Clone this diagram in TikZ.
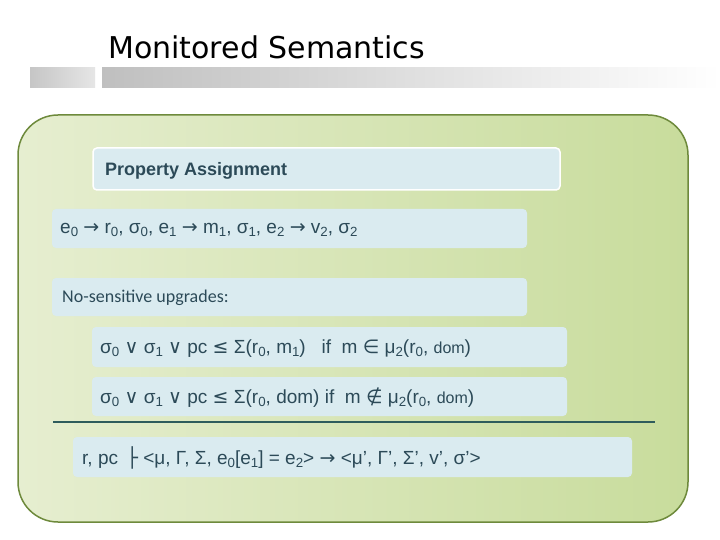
\documentclass[tikz,border=0pt]{standalone}
\usepackage{fontspec}
\setmainfont{Liberation Sans}
\newfontfamily\carl{Carlito}
\newfontfamily\djv{DejaVu Sans}
\newfontfamily\tahm{DejaVu Sans}
\newcommand{\lo}[1]{\raisebox{-0.3ex}{\scalebox{0.7}{#1}}}
\definecolor{txt}{HTML}{2C4A58}
\definecolor{boxc}{HTML}{DAEBF0}
\definecolor{greenA}{HTML}{E6EED0}
\definecolor{greenB}{HTML}{C8DC9C}
\definecolor{greenE}{HTML}{6E8A3C}
\definecolor{rulec}{HTML}{2E5C5C}
\tikzset{
  panel/.style={fill=boxc, rounded corners=4pt, draw=none},
  lbl/.style={text=txt, anchor=west, inner sep=0pt, font=\fontsize{19}{22}\selectfont}
}
\begin{document}
\begin{tikzpicture}[x=1pt,y=-1pt]
\useasboundingbox (0,0) rectangle (720,540);
\fill[white] (0,0) rectangle (720,540);
\shade[left color=gray!45, right color=gray!20] (30,68) rectangle (95,88);
\shade[left color=gray!50, right color=white] (102,68) rectangle (720,88);
\node[anchor=west, inner sep=0pt, font=\tahm\fontsize{30}{34}\selectfont] (title) at (108,47) {Monitored Semantics};
\shade[left color=greenA, right color=greenB, draw=greenE, line width=1.5pt, rounded corners=40pt] (18,115) rectangle (688,522);
\fill[panel, draw=white, line width=1.5pt] (93,148) rectangle (560,190);
\node[lbl, font=\bfseries\fontsize{18}{22}\selectfont] (pa) at (105,171) {Property Assignment};
\fill[panel] (52,209) rectangle (527,248);
\node[lbl] (e) at (60,230) {e\lo{0} {\djv→} r\lo{0}, σ\lo{0}, e\lo{1} {\djv→} m\lo{1}, σ\lo{1}, e\lo{2} {\djv→} v\lo{2}, σ\lo{2}};
\fill[panel] (52,278) rectangle (527,316);
\node[lbl, font=\carl\fontsize{18}{22}\selectfont] (ns) at (62,298) {No-sensitive upgrades:};
\fill[panel] (92,327) rectangle (567,367);
\node[lbl] (s1) at (100,349) {σ\lo{0} {\djv∨} σ\lo{1} {\djv∨} pc {\djv≤} Σ(r\lo{0}, m\lo{1}) \ \ if \ m {\djv∈} μ\lo{2}(r\lo{0}, {\fontsize{16}{18}\selectfont dom})};
\fill[panel] (92,377) rectangle (567,416);
\node[lbl] (s2) at (100,398) {σ\lo{0} {\djv∨} σ\lo{1} {\djv∨} pc {\djv≤} Σ(r\lo{0}, dom) if \ m {\djv∉} μ\lo{2}(r\lo{0}, {\fontsize{16}{18}\selectfont dom})};
\coordinate (ra) at (53,422);
\coordinate (rb) at (655,422);
\draw[rulec, line width=2.5pt] (ra) -- (rb);
\fill[panel] (73,437) rectangle (632,477);
\node[lbl] (concl) at (82,458) {r, pc \,{\djv├} <μ, Γ, Σ, e\lo{0}[e\lo{1}] = e\lo{2}> {\djv→} <μ’, Γ’, Σ’, v’, σ’>};
\end{tikzpicture}
\end{document}
